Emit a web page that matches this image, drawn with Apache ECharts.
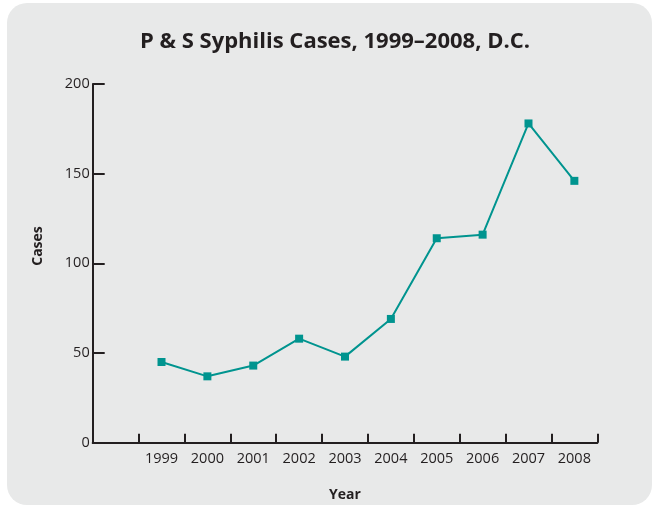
<!DOCTYPE html>
<html><head><meta charset="utf-8">
<script src="https://cdn.jsdelivr.net/npm/echarts@6/dist/echarts.min.js"></script>
<style>html,body{margin:0;padding:0;background:#fff}#c{width:653px;height:506px}</style>
</head><body><div id="c"></div>
<script>
const years = ['', '1999','2000','2001','2002','2003','2004','2005','2006','2007','2008'];
const cases = [null, 45, 37, 43, 58, 48, 69, 114, 116, 178, 146];
const yTicks = [0, 50, 100, 150, 200];
const title = 'P & S Syphilis Cases, 1999–2008, D.C.';
const xName = 'Year';
const yName = 'Cases';

const chart = echarts.init(document.getElementById('c'), null, {renderer: 'canvas'});
const axisColor = '#231f20';
const font = '"Open Sans", sans-serif';
chart.setOption({
  animation: false,
  graphic: [
    {type: 'rect', z: -10, shape: {x: 7, y: 3, width: 645, height: 502, r: 20}, style: {fill: '#e8e9e9'}},
    {type: 'text', z: 10, x: 38, y: 246, rotation: Math.PI/2,
     style: {text: yName, font: 'bold 14px ' + font, fill: axisColor, textAlign: 'center', textVerticalAlign: 'middle'}}
  ],
  title: {
    text: title, left: 330, top: 26, textAlign: 'center',
    textStyle: {fontFamily: font, fontWeight: 'bold', fontSize: 22, color: axisColor}
  },
  grid: {left: 92.7, right: 55.7, top: 84, bottom: 63.3, containLabel: false, outerBoundsMode: 'none'},
  xAxis: {
    type: 'category', data: years, boundaryGap: true,
    name: xName, nameLocation: 'middle', nameGap: 45,
    nameTextStyle: {fontFamily: font, fontWeight: 'bold', fontSize: 14, color: axisColor},
    axisLine: {lineStyle: {color: axisColor, width: 2}},
    axisTick: {show: true, inside: true, length: 9, interval: 0, lineStyle: {color: axisColor, width: 2}},
    axisLabel: {fontFamily: font, fontSize: 14.5, color: axisColor, margin: 9, interval: 0}
  },
  yAxis: {
    type: 'value', min: 0, max: 200, interval: 50,
    axisLine: {show: true, lineStyle: {color: axisColor, width: 2}},
    axisTick: {show: true, inside: true, length: 12, lineStyle: {color: axisColor, width: 2}},
    splitLine: {show: false},
    axisLabel: {fontFamily: font, fontSize: 14.5, color: axisColor, margin: 3,
      formatter: v => yTicks.includes(v) ? String(v) : ''}
  },
  series: [{
    type: 'line', data: cases, connectNulls: false,
    symbol: 'rect', symbolSize: 8, showAllSymbol: true,
    lineStyle: {color: '#00948f', width: 2},
    itemStyle: {color: '#00948f'}
  }]
});
</script></body></html>
